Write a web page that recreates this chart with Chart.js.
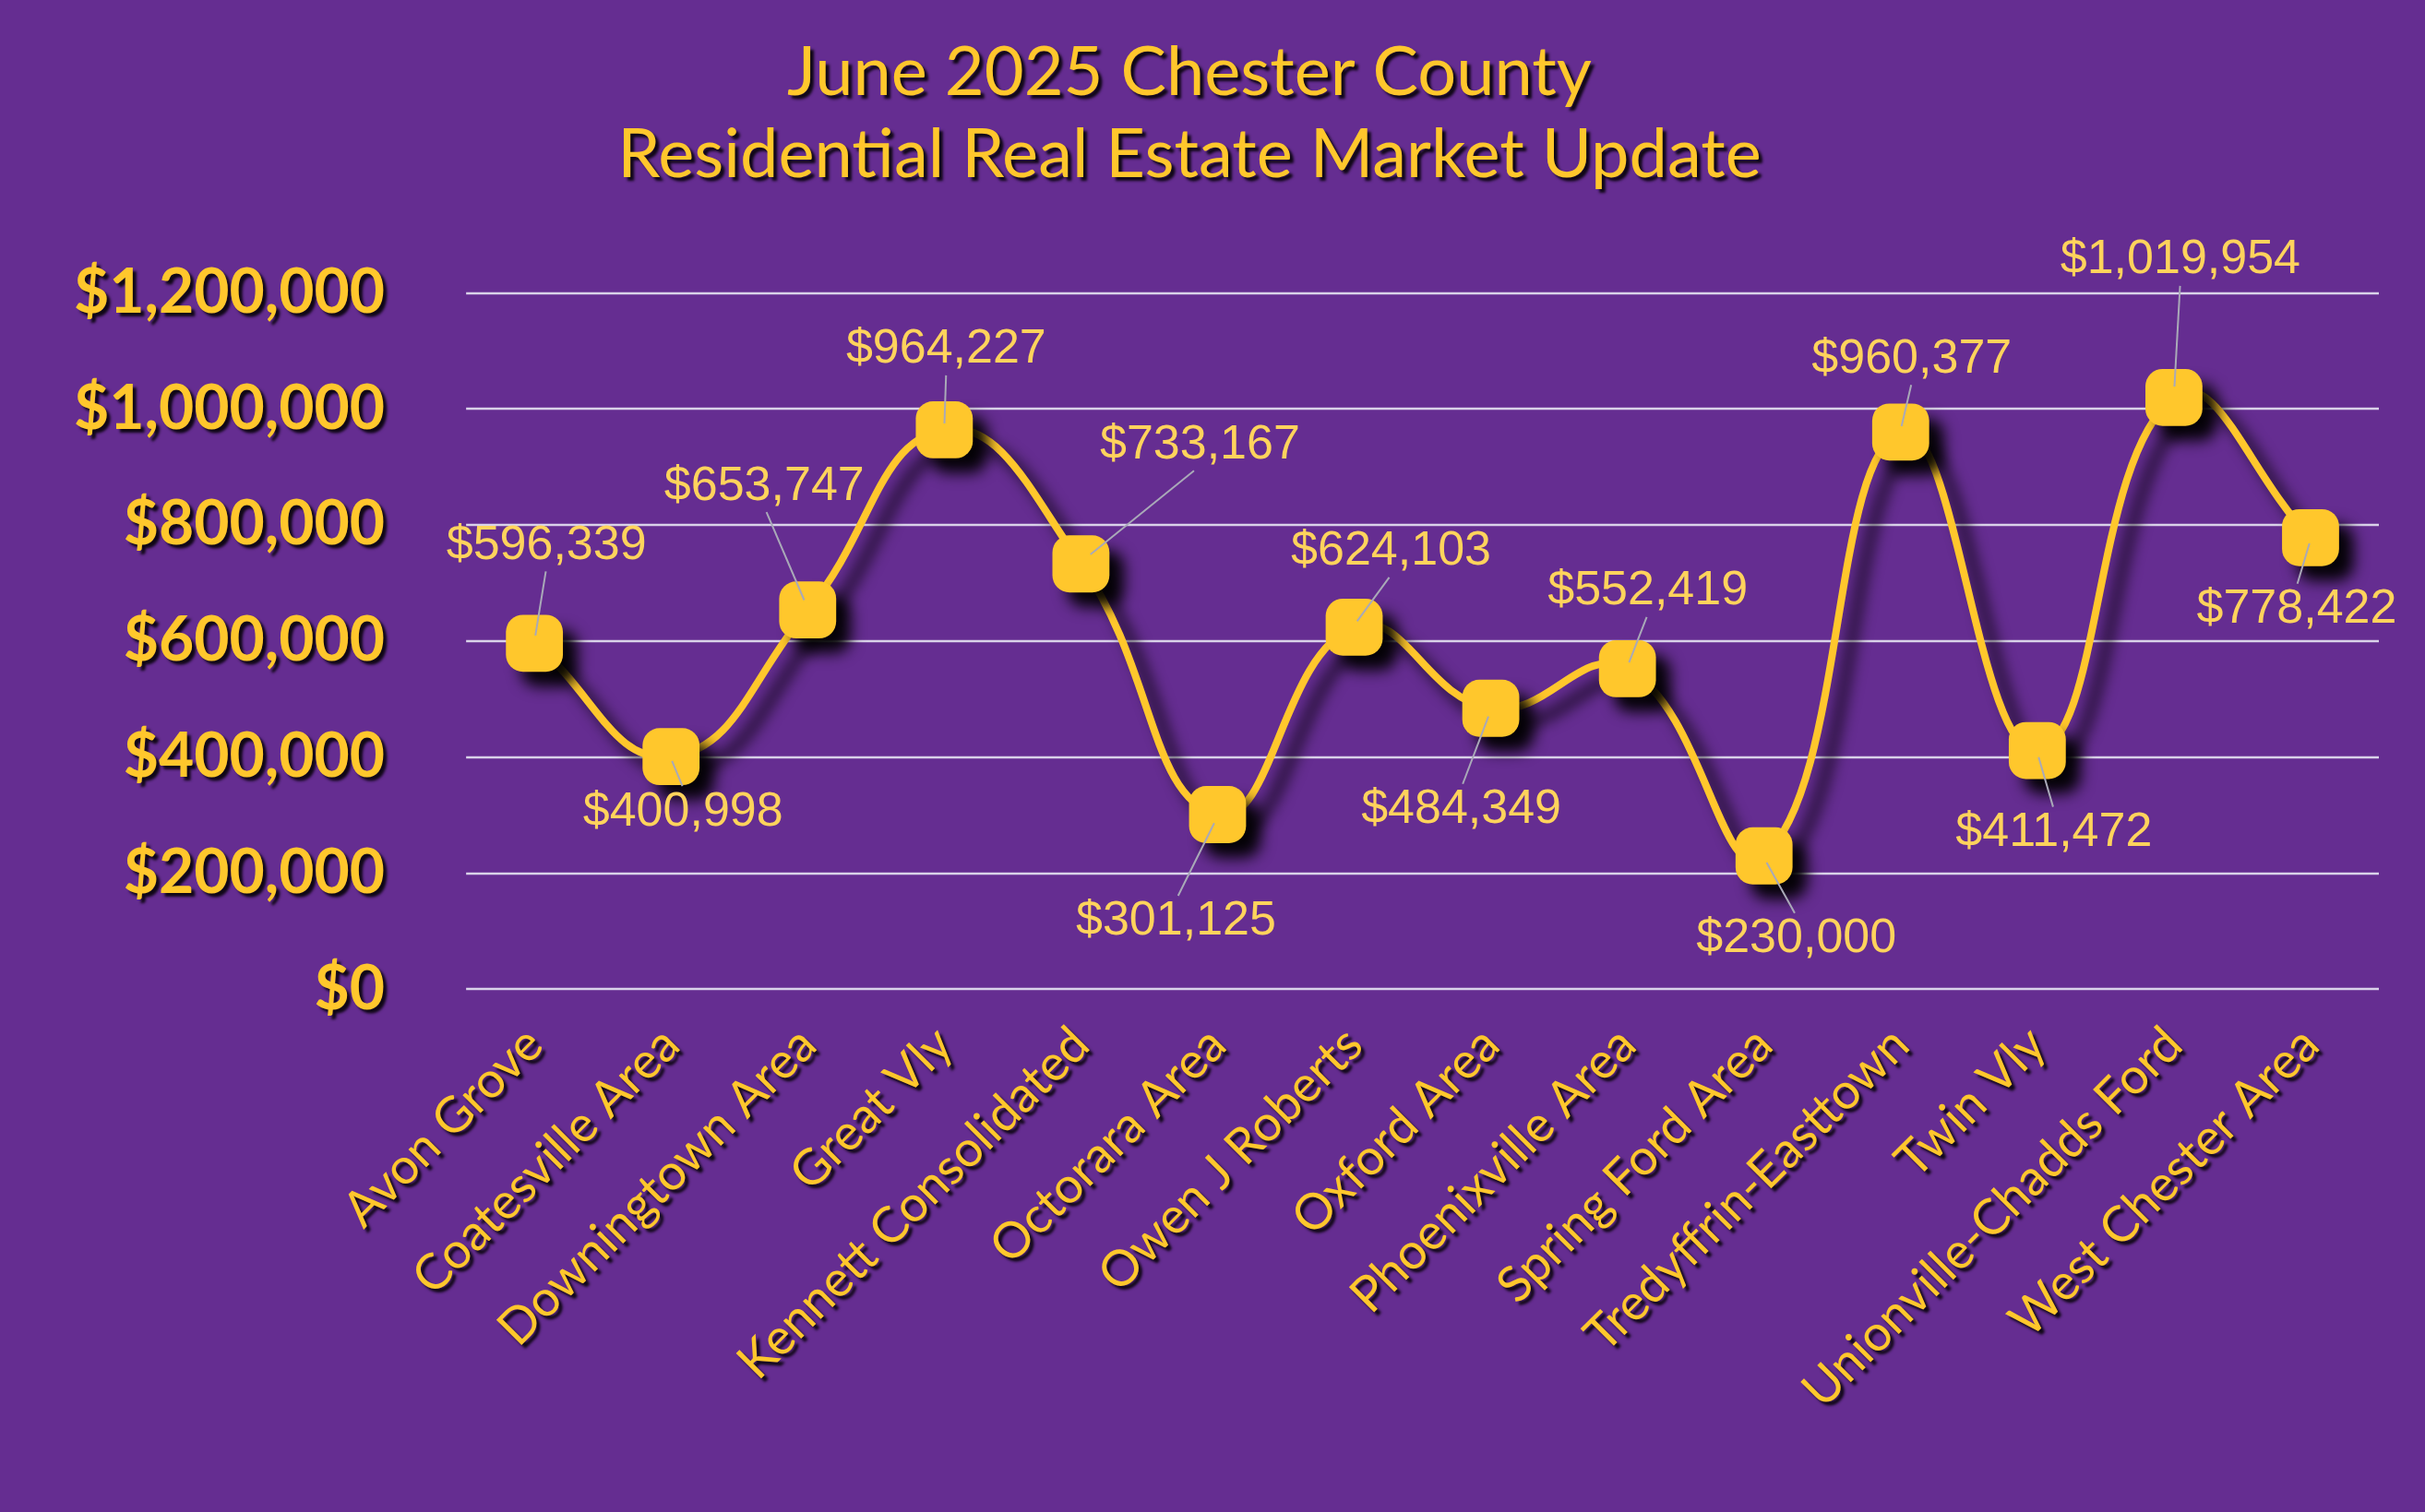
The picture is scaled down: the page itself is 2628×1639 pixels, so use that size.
<!DOCTYPE html>
<html><head><meta charset="utf-8">
<script src="https://cdn.jsdelivr.net/npm/chart.js@4/dist/chart.umd.min.js"></script>
<style>html,body{margin:0;padding:0;background:#652D91;}canvas{display:block}</style>
</head><body>
<canvas id="c" width="2628" height="1639"></canvas>
<script>
const categories = ["Avon Grove","Coatesville Area","Downingtown Area","Great Vly","Kennett Consolidated","Octorara Area","Owen J Roberts","Oxford Area","Phoenixville Area","Spring Ford Area","Tredyffrin-Easttown","Twin Vly","Unionville-Chadds Ford","West Chester Area"];
const medianPrice = [596339,400998,653747,964227,733167,301125,624103,484349,552419,230000,960377,411472,1019954,778422];
const yTicks = [0,200000,400000,600000,800000,1000000,1200000];
// label offsets (px) from the point, style only
const labelOffsets = [[13,-106],[13,60],[-47,-134],[2,-87],[129,-129],[-45,116],[40,-82],[-32,110],[22,-84],[35,90],[12,-79],[18,89],[7,-149],[-15,78]];

const gold = '#FFC72C';
const fmt = v => '$' + v.toLocaleString('en-US');

const gridPlugin = {
  id:'grid',
  beforeDraw(chart){
    const {ctx, chartArea:a, scales:{y}} = chart;
    ctx.save();
    ctx.strokeStyle='#D9D2E9'; ctx.lineWidth=2.5;
    yTicks.forEach(t=>{const py=Math.round(y.getPixelForValue(t));ctx.beginPath();ctx.moveTo(a.left,py);ctx.lineTo(a.right,py);ctx.stroke();});
    ctx.restore();
    ctx.shadowColor='rgba(0,0,0,0.85)'; ctx.shadowOffsetX=4; ctx.shadowOffsetY=4; ctx.shadowBlur=3;
  },
  beforeDatasetsDraw(chart){
    const ctx=chart.ctx; ctx.save();
    ctx.shadowColor='rgba(0,0,0,0.95)'; ctx.shadowOffsetX=16; ctx.shadowOffsetY=16; ctx.shadowBlur=16;
  },
  afterDatasetsDraw(chart){
    const ctx=chart.ctx; ctx.restore();
    ctx.save();
    ctx.shadowColor='transparent';
    const meta=chart.getDatasetMeta(0);
    ctx.font='52px "Liberation Sans", Arial, sans-serif';
    ctx.textAlign='center'; ctx.textBaseline='middle';
    meta.data.forEach((p,i)=>{
      const [dx,dy]=labelOffsets[i];
      const lx=p.x+dx, ly=p.y+dy;
      ctx.strokeStyle='#A9A9B8'; ctx.lineWidth=2;
      const ex = lx, ey = ly + (dy<0?28:-28);
      ctx.beginPath(); ctx.moveTo(p.x+dx*0.08,p.y+dy*0.08); ctx.lineTo(ex - (dx)*0.05, ey); ctx.stroke();
      ctx.fillStyle='#FFD35C';
      ctx.fillText(fmt(medianPrice[i]),lx,ly);
    });
    ctx.restore();
  }
};

new Chart(document.getElementById('c'),{
  type:'line',
  data:{labels:categories,datasets:[{data:medianPrice,borderColor:gold,borderWidth:8,tension:0.45,
    pointStyle:'rectRounded',pointRadius:36,pointHoverRadius:36,pointBackgroundColor:gold,pointBorderColor:gold,pointBorderWidth:0}]},
  options:{
    responsive:false,animation:false,
    layout:{padding:{left:0,right:50,top:25,bottom:80}},
    plugins:{legend:{display:false},tooltip:{enabled:false},
      title:{display:true,text:['June 2025 Chester County','Residential Real Estate Market Update'],color:gold,
        font:{family:'Lato, sans-serif',size:74,weight:'normal'},lineHeight:1.35,padding:{top:10,bottom:105}}},
    scales:{
      y:{min:0,max:1200000,afterBuildTicks:ax=>{ax.ticks=yTicks.map(v=>({value:v}));},
        grid:{display:false},border:{display:false},
        ticks:{color:gold,font:{family:'Lato, sans-serif',size:66,weight:'bold'},padding:80,callback:v=>fmt(v)}},
      x:{offset:true,grid:{display:false},border:{display:false},
        ticks:{color:gold,font:{family:'Lato, sans-serif',size:54},maxRotation:45,minRotation:45,padding:20}}
    }
  },
  plugins:[gridPlugin]
});
</script>
</body></html>
